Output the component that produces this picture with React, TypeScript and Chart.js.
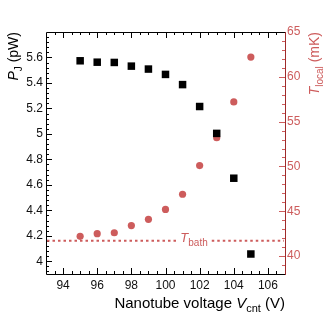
import React, { useEffect, useRef } from "react";
import { Chart, registerables } from "chart.js";

Chart.register(...registerables);

// ---- data ----
const VOLTAGE = [95, 96, 97, 98, 99, 100, 101, 102, 103, 104, 105];
const PJ = [5.574, 5.563, 5.561, 5.532, 5.509, 5.467, 5.387, 5.215, 5.004, 4.652, 4.057];
const TLOCAL = [42.2, 42.5, 42.6, 43.4, 44.1, 45.2, 46.9, 50.1, 53.2, 57.2, 62.2];
const TBATH = 41.7;
const TBATH_LABEL_X = 100.87;

const X_TICKS = [94, 96, 98, 100, 102, 104, 106];
const Y_TICKS = [4, 4.2, 4.4, 4.6, 4.8, 5, 5.2, 5.4, 5.6];
const Y1_TICKS = [40, 45, 50, 55, 60, 65];

const X_RANGE = [93, 107];
const Y_RANGE = [3.9, 5.8];
const Y1_RANGE = [38, 65];

const X_MINOR = 0.5;
const Y_MINOR = 0.04;
const Y1_MINOR = 1;

const RED = "#cd5c5c";
const DARKRED = "#9e2b2b";
const FONT = "'Liberation Sans', Arial, sans-serif";

type Part = { t: string; it?: boolean; sub?: boolean };

function drawRich(ctx: CanvasRenderingContext2D, parts: Part[], size: number, subSize: number, subOff: number) {
  // draws right-aligned ending at (0,0), baseline at y=0
  const fontOf = (p: Part) => `${p.it ? "italic " : ""}${p.sub ? subSize : size}px ${FONT}`;
  let w = 0;
  for (const p of parts) {
    ctx.font = fontOf(p);
    w += ctx.measureText(p.t).width;
  }
  let x = -w;
  ctx.textAlign = "left";
  ctx.textBaseline = "alphabetic";
  for (const p of parts) {
    ctx.font = fontOf(p);
    ctx.fillText(p.t, x, p.sub ? subOff : 0);
    x += ctx.measureText(p.t).width;
  }
  return w;
}

const decor = {
  id: "decor",
  afterDraw(chart: any) {
    const ctx: CanvasRenderingContext2D = chart.ctx;
    const { left, right, top, bottom } = chart.chartArea;
    const xs = chart.scales.x;
    const ys = chart.scales.y;
    const y1 = chart.scales.y1;
    ctx.save();
    ctx.lineWidth = 1;

    // x ticks (bottom & top)
    ctx.strokeStyle = "#000";
    ctx.beginPath();
    for (let v = X_RANGE[0] + X_MINOR; v < X_RANGE[1] - 1e-9; v += X_MINOR) {
      const major = X_TICKS.some((t) => Math.abs(t - v) < 1e-6);
      const len = major ? 6 : 3;
      const px = Math.round(xs.getPixelForValue(v)) + 0.5;
      ctx.moveTo(px, bottom);
      ctx.lineTo(px, bottom - len);
      ctx.moveTo(px, top);
      ctx.lineTo(px, top + len);
    }
    // left y ticks
    for (let v = 3.92; v < Y_RANGE[1] - 1e-9; v += Y_MINOR) {
      const major = Y_TICKS.some((t) => Math.abs(t - v) < 1e-6);
      const len = major ? 6 : 3;
      const py = Math.round(ys.getPixelForValue(v)) + 0.5;
      ctx.moveTo(left, py);
      ctx.lineTo(left + len, py);
    }
    ctx.stroke();

    // right y ticks
    ctx.strokeStyle = RED;
    ctx.beginPath();
    for (let v = Y1_RANGE[0] + Y1_MINOR; v < Y1_RANGE[1] + 1e-9; v += Y1_MINOR) {
      const major = Y1_TICKS.some((t) => Math.abs(t - v) < 1e-6);
      const len = major ? 6 : 3;
      const py = Math.round(y1.getPixelForValue(v)) + 0.5;
      ctx.moveTo(right, py);
      ctx.lineTo(right - len, py);
    }
    ctx.stroke();

    // frame
    ctx.strokeStyle = "#000";
    ctx.beginPath();
    ctx.moveTo(right, top + 0.5);
    ctx.lineTo(left + 0.5, top + 0.5);
    ctx.lineTo(left + 0.5, bottom + 0.5);
    ctx.lineTo(right, bottom + 0.5);
    ctx.stroke();
    ctx.strokeStyle = DARKRED;
    ctx.beginPath();
    ctx.moveTo(right + 0.5, top);
    ctx.lineTo(right + 0.5, bottom + 1);
    ctx.stroke();

    // T_bath line with label
    const by = y1.getPixelForValue(TBATH);
    const lx = xs.getPixelForValue(TBATH_LABEL_X);
    ctx.fillStyle = RED;
    ctx.save();
    ctx.translate(lx, by + 1);
    ctx.font = `italic 13px ${FONT}`;
    const tw = ctx.measureText("T").width;
    ctx.font = `10px ${FONT}`;
    const bw = ctx.measureText("bath").width;
    ctx.translate(tw + bw, 0);
    const w = drawRich(ctx, [{ t: "T", it: true }, { t: "bath", sub: true }], 13, 10, 4);
    ctx.restore();
    ctx.strokeStyle = RED;
    ctx.lineWidth = 2;
    ctx.setLineDash([2.5, 3]);
    ctx.beginPath();
    ctx.moveTo(left + 1, by);
    ctx.lineTo(lx - 4, by);
    ctx.moveTo(lx + w + 4, by);
    ctx.lineTo(right - 1, by);
    ctx.stroke();
    ctx.setLineDash([]);

    // titles
    ctx.fillStyle = "#000";
    ctx.save();
    ctx.translate(right, 308);
    drawRich(ctx, [{ t: "Nanotube voltage " }, { t: "V", it: true }, { t: "cnt", sub: true }, { t: " (V)" }], 15, 11, 4);
    ctx.restore();

    ctx.save();
    ctx.translate(17.5, top);
    ctx.rotate(-Math.PI / 2);
    drawRich(ctx, [{ t: "P", it: true }, { t: "J", sub: true }, { t: " (pW)" }], 14, 10, 4);
    ctx.restore();

    ctx.fillStyle = RED;
    ctx.save();
    ctx.translate(319, top);
    ctx.rotate(-Math.PI / 2);
    drawRich(ctx, [{ t: "T", it: true }, { t: "local", sub: true }, { t: " (mK)" }], 14, 10, 4);
    ctx.restore();

    ctx.restore();
  },
};

export default function App() {
  const ref = useRef<HTMLCanvasElement>(null);
  useEffect(() => {
    if (!ref.current) return;
    const chart = new Chart(ref.current, {
      type: "scatter",
      data: {
        datasets: [
          {
            label: "PJ",
            data: VOLTAGE.map((x, i) => ({ x, y: PJ[i] })),
            yAxisID: "y",
            pointStyle: "rect",
            pointRadius: 5.3,
            backgroundColor: "#000",
            borderColor: "#000",
            borderWidth: 0,
          },
          {
            label: "Tlocal",
            data: VOLTAGE.map((x, i) => ({ x, y: TLOCAL[i] })),
            yAxisID: "y1",
            pointStyle: "circle",
            pointRadius: 3.6,
            backgroundColor: RED,
            borderColor: RED,
            borderWidth: 0,
          },
        ],
      },
      plugins: [decor],
      options: {
        responsive: false,
        animation: false,
        events: [],
        layout: { padding: { top: 32, left: 0, right: 0, bottom: 0 } },
        plugins: { legend: { display: false }, tooltip: { enabled: false } },
        scales: {
          x: {
            type: "linear",
            position: "bottom",
            min: X_RANGE[0],
            max: X_RANGE[1],
            grid: { display: false, drawTicks: false },
            border: { display: false },
            afterBuildTicks: (s: any) => {
              s.ticks = X_TICKS.map((value) => ({ value }));
            },
            afterFit: (s: any) => {
              s.height = 45;
            },
            ticks: {
              padding: 4,
              color: "#111",
              font: { family: FONT, size: 12 },
              callback: (v: any) => String(v),
            },
          },
          y: {
            type: "linear",
            position: "left",
            min: Y_RANGE[0],
            max: Y_RANGE[1],
            grid: { display: false, drawTicks: false },
            border: { display: false },
            afterBuildTicks: (s: any) => {
              s.ticks = Y_TICKS.map((value) => ({ value }));
            },
            afterFit: (s: any) => {
              s.width = 46;
            },
            ticks: {
              padding: 3,
              color: "#111",
              font: { family: FONT, size: 12 },
              callback: (v: any) => String(+Number(v).toFixed(2)),
            },
          },
          y1: {
            type: "linear",
            position: "right",
            min: Y1_RANGE[0],
            max: Y1_RANGE[1],
            grid: { display: false, drawTicks: false },
            border: { display: false },
            afterBuildTicks: (s: any) => {
              s.ticks = Y1_TICKS.map((value) => ({ value }));
            },
            afterFit: (s: any) => {
              s.width = 47;
            },
            ticks: {
              padding: 2,
              color: RED,
              font: { family: FONT, size: 12 },
              callback: (v: any) => String(v),
            },
          },
        },
      },
    } as any);
    return () => chart.destroy();
  }, []);
  return (
    <div style={{ position: "fixed", left: 0, top: 0, width: 332, height: 319, background: "#fff" }}>
      <canvas ref={ref} width={332} height={319} style={{ display: "block" }} />
    </div>
  );
}
